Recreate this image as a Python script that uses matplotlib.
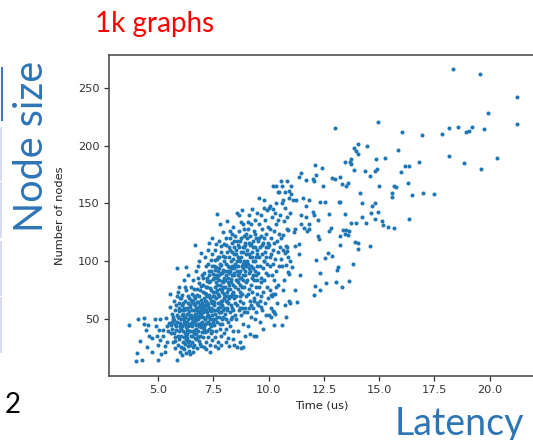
import numpy as np
import matplotlib.pyplot as plt
from matplotlib.lines import Line2D

# points: (time in us, number of nodes)
low_left = [(3.68, 45), (4.07, 50), (4.37, 51), (3.98, 14), (4.25, 15), (4.02, 21), (4.17, 31),
            (4.47, 41), (4.55, 45), (4.85, 50), (4.97, 15), (4.7, 22), (4.48, 26), (4.73, 34),
            (5.03, 41), (4.93, 36), (5.08, 32), (5.37, 51), (5.23, 41), (5.1, 50), (5.41, 30),
            (5.33, 27), (5.15, 20), (5.45, 40), (5.0, 28), (4.6, 36), (5.3, 22), (4.9, 44),
            (5.47, 47), (4.37, 46), (5.38, 44), (5.2, 36)]

band_55 = [(5.52, 72), (5.55, 61), (5.58, 38), (5.6, 45), (5.62, 55), (5.64, 42), (5.66, 30),
           (5.68, 50), (5.7, 66), (5.72, 49), (5.74, 25), (5.76, 58), (5.78, 35), (5.8, 62),
           (5.82, 44), (5.84, 70), (5.86, 94), (5.87, 15), (5.88, 28), (5.9, 52), (5.92, 40),
           (5.93, 78), (5.95, 33), (5.96, 57), (5.97, 47), (5.98, 22), (5.99, 68), (5.7, 38),
           (5.75, 46), (5.85, 54), (5.9, 36), (5.65, 52), (5.8, 41), (5.95, 64), (5.83, 48),
           (5.77, 31), (5.62, 48), (5.92, 60), (5.88, 74), (5.98, 43)]

band_60 = [(6.02, 26), (6.03, 50), (6.05, 36), (6.06, 62), (6.08, 19), (6.09, 44), (6.1, 71),
           (6.12, 55), (6.13, 30), (6.15, 47), (6.16, 84), (6.18, 24), (6.19, 58), (6.2, 38),
           (6.22, 66), (6.23, 52), (6.25, 21), (6.26, 43), (6.28, 75), (6.29, 34), (6.3, 60),
           (6.32, 48), (6.33, 27), (6.35, 55), (6.36, 88), (6.38, 40), (6.39, 68), (6.4, 31),
           (6.42, 52), (6.43, 20), (6.45, 62), (6.46, 45), (6.48, 78), (6.49, 36), (6.04, 42),
           (6.11, 64), (6.14, 40), (6.21, 46), (6.24, 59), (6.27, 32), (6.31, 41), (6.34, 70),
           (6.37, 50), (6.41, 57), (6.44, 28), (6.47, 54), (6.07, 54), (6.17, 35), (6.33, 64),
           (6.45, 40), (6.2, 78), (6.38, 23), (6.12, 25), (6.27, 95), (6.4, 46), (6.05, 68),
           (6.3, 37), (6.22, 29), (6.47, 67), (6.15, 51)]

band_65 = [(6.51, 30), (6.52, 58), (6.53, 44), (6.55, 72), (6.56, 22), (6.57, 50), (6.58, 84),
           (6.6, 38), (6.61, 63), (6.62, 47), (6.64, 28), (6.65, 55), (6.66, 114), (6.67, 68),
           (6.68, 41), (6.7, 92), (6.71, 33), (6.72, 60), (6.73, 49), (6.75, 76), (6.76, 25),
           (6.77, 53), (6.78, 65), (6.8, 40), (6.81, 86), (6.82, 57), (6.83, 31), (6.85, 70),
           (6.86, 46), (6.87, 100), (6.88, 62), (6.9, 36), (6.91, 54), (6.92, 79), (6.93, 43),
           (6.95, 67), (6.96, 27), (6.97, 58), (6.98, 48), (6.99, 88), (6.54, 36), (6.59, 66),
           (6.63, 52), (6.69, 45), (6.74, 58), (6.79, 50), (6.84, 61), (6.89, 52), (6.94, 55),
           (6.97, 39), (6.55, 48), (6.62, 76), (6.7, 55), (6.78, 35), (6.85, 56), (6.92, 62),
           (6.6, 58), (6.68, 62), (6.76, 71), (6.84, 44), (6.9, 75), (6.58, 26), (6.73, 37),
           (6.88, 29), (6.95, 107), (6.52, 65), (6.66, 34), (6.8, 96), (6.94, 47), (6.72, 42)]

band_70 = [(7.01, 52), (7.02, 35), (7.03, 74), (7.05, 60), (7.06, 44), (7.07, 90), (7.08, 26),
           (7.1, 66), (7.11, 50), (7.12, 104), (7.14, 39), (7.15, 78), (7.16, 58), (7.18, 30),
           (7.19, 86), (7.2, 47), (7.22, 70), (7.23, 56), (7.24, 98), (7.25, 35), (7.27, 63),
           (7.28, 42), (7.29, 82), (7.3, 52), (7.32, 116), (7.33, 28), (7.34, 68), (7.35, 46),
           (7.37, 92), (7.38, 60), (7.39, 38), (7.4, 75), (7.42, 54), (7.43, 106), (7.44, 32),
           (7.45, 64), (7.47, 48), (7.48, 85), (7.49, 58), (7.04, 56), (7.09, 42), (7.13, 62),
           (7.17, 72), (7.21, 40), (7.26, 54), (7.31, 60), (7.36, 77), (7.41, 44), (7.46, 70),
           (7.02, 80), (7.08, 61), (7.14, 50), (7.2, 64), (7.27, 48), (7.33, 58), (7.39, 66),
           (7.45, 40), (7.06, 68), (7.12, 46), (7.18, 96), (7.24, 61), (7.3, 88), (7.36, 50),
           (7.42, 96), (7.48, 66), (7.15, 24), (7.35, 22), (7.25, 110), (7.45, 120), (7.1, 57),
           (7.22, 83), (7.28, 71), (7.4, 57), (7.05, 45), (7.47, 74)]

band_75 = [(7.51, 62), (7.52, 45), (7.53, 96), (7.55, 78), (7.56, 35), (7.57, 110), (7.58, 55),
           (7.6, 88), (7.61, 68), (7.62, 40), (7.64, 102), (7.65, 58), (7.66, 141), (7.67, 75),
           (7.68, 48), (7.7, 92), (7.71, 64), (7.72, 30), (7.73, 84), (7.75, 52), (7.76, 118),
           (7.77, 70), (7.78, 42), (7.8, 98), (7.81, 61), (7.82, 80), (7.83, 36), (7.85, 108),
           (7.86, 56), (7.87, 74), (7.88, 90), (7.9, 46), (7.91, 66), (7.92, 125), (7.93, 82),
           (7.95, 52), (7.96, 100), (7.97, 72), (7.98, 38), (7.99, 86), (7.54, 70), (7.59, 50),
           (7.63, 82), (7.69, 60), (7.74, 94), (7.79, 56), (7.84, 66), (7.89, 62), (7.94, 78),
           (7.54, 86), (7.6, 74), (7.66, 86), (7.72, 72), (7.78, 64), (7.84, 90), (7.9, 76),
           (7.96, 60), (7.57, 27), (7.7, 25), (7.85, 28), (7.63, 115), (7.82, 132), (7.97, 115),
           (7.52, 58), (7.62, 95), (7.74, 56), (7.88, 50), (7.95, 93), (7.67, 52), (7.8, 76),
           (7.93, 58), (7.58, 101), (7.76, 104), (7.86, 97), (7.99, 68)]

band_80 = [(8.01, 78), (8.02, 55), (8.03, 104), (8.05, 66), (8.06, 42), (8.07, 120), (8.08, 88),
           (8.1, 60), (8.11, 135), (8.12, 74), (8.14, 48), (8.15, 96), (8.16, 82), (8.18, 34),
           (8.19, 112), (8.2, 68), (8.22, 90), (8.23, 56), (8.24, 126), (8.25, 76), (8.27, 44),
           (8.28, 100), (8.29, 62), (8.3, 85), (8.32, 116), (8.33, 52), (8.34, 72), (8.35, 94),
           (8.37, 40), (8.38, 130), (8.39, 80), (8.4, 58), (8.42, 106), (8.43, 68), (8.44, 88),
           (8.45, 28), (8.47, 122), (8.48, 64), (8.49, 98), (8.04, 92), (8.09, 50), (8.13, 108),
           (8.17, 64), (8.21, 80), (8.26, 110), (8.31, 70), (8.36, 60), (8.41, 118), (8.46, 78),
           (8.02, 70), (8.08, 98), (8.14, 86), (8.2, 104), (8.26, 92), (8.32, 96), (8.38, 74),
           (8.44, 112), (8.5, 84), (8.06, 30), (8.22, 27), (8.4, 33), (8.12, 58), (8.3, 50),
           (8.46, 54), (8.16, 70), (8.34, 108), (8.18, 92), (8.28, 82), (8.42, 90), (8.36, 124)]

band_85 = [(8.51, 70), (8.52, 96), (8.53, 50), (8.55, 118), (8.56, 84), (8.57, 62), (8.58, 142),
           (8.6, 104), (8.61, 76), (8.62, 40), (8.64, 126), (8.65, 90), (8.66, 58), (8.67, 112),
           (8.68, 80), (8.7, 100), (8.71, 30), (8.72, 66), (8.73, 134), (8.75, 86), (8.76, 54),
           (8.77, 120), (8.78, 96), (8.8, 72), (8.81, 144), (8.82, 108), (8.83, 46), (8.85, 88),
           (8.86, 64), (8.87, 128), (8.88, 100), (8.9, 78), (8.91, 36), (8.92, 116), (8.93, 92),
           (8.95, 60), (8.96, 106), (8.97, 82), (8.98, 124), (8.99, 70), (8.54, 106), (8.59, 88),
           (8.63, 96), (8.69, 74), (8.74, 104), (8.79, 60), (8.84, 112), (8.89, 56), (8.94, 98),
           (8.57, 26), (8.75, 25), (8.62, 82), (8.7, 118), (8.78, 78), (8.86, 94), (8.94, 114),
           (8.66, 140), (8.84, 132), (8.56, 100), (8.72, 92), (8.9, 122), (8.68, 70), (8.82, 84),
           (8.98, 96), (8.6, 114)]

band_90 = [(9.01, 110), (9.02, 84), (9.03, 56), (9.05, 128), (9.06, 98), (9.07, 72), (9.08, 44),
           (9.1, 116), (9.11, 90), (9.12, 140), (9.14, 66), (9.15, 104), (9.16, 122), (9.18, 80),
           (9.19, 52), (9.2, 132), (9.22, 96), (9.23, 108), (9.24, 74), (9.25, 145), (9.27, 88),
           (9.28, 60), (9.29, 118), (9.3, 100), (9.32, 36), (9.33, 84), (9.34, 126), (9.35, 68),
           (9.37, 112), (9.38, 92), (9.39, 50), (9.4, 136), (9.42, 78), (9.43, 104), (9.44, 120),
           (9.45, 64), (9.47, 96), (9.48, 84), (9.49, 142), (9.04, 100), (9.13, 94), (9.21, 62),
           (9.31, 112), (9.41, 88), (9.46, 72), (9.09, 60), (9.26, 104), (9.36, 100), (9.17, 114),
           (9.44, 56), (9.06, 134), (9.23, 86), (9.33, 66), (9.12, 76), (9.48, 106)]

band_95 = [(9.51, 118), (9.52, 90), (9.53, 62), (9.55, 132), (9.56, 104), (9.57, 78), (9.58, 155),
           (9.6, 112), (9.61, 48), (9.62, 96), (9.64, 140), (9.65, 70), (9.66, 122), (9.67, 86),
           (9.69, 106), (9.7, 58), (9.72, 128), (9.73, 94), (9.74, 116), (9.75, 74), (9.77, 146),
           (9.78, 100), (9.79, 84), (9.8, 120), (9.82, 64), (9.83, 136), (9.84, 108), (9.86, 90),
           (9.87, 124), (9.88, 54), (9.9, 112), (9.91, 78), (9.92, 144), (9.94, 98), (9.95, 116),
           (9.96, 68), (9.98, 130), (9.99, 88), (9.54, 120), (9.63, 82), (9.71, 114), (9.81, 100),
           (9.89, 104), (9.97, 112), (9.59, 66), (9.79, 153)]

band_100 = [(10.01, 146), (10.02, 114), (10.04, 96), (10.05, 75), (10.06, 128), (10.08, 148),
            (10.09, 106), (10.1, 60), (10.12, 120), (10.13, 88), (10.15, 138), (10.16, 70),
            (10.18, 110), (10.19, 98), (10.2, 145), (10.22, 126), (10.23, 56), (10.24, 84),
            (10.26, 116), (10.27, 142), (10.29, 102), (10.3, 72), (10.32, 132), (10.33, 92),
            (10.35, 150), (10.36, 118), (10.38, 64), (10.4, 108), (10.42, 136), (10.43, 80),
            (10.45, 124), (10.47, 96), (10.48, 160), (10.49, 112), (10.1, 52), (10.25, 45),
            (10.4, 160), (10.2, 165), (10.35, 78), (10.05, 104), (10.35, 165)]

band_105 = [(10.52, 140), (10.55, 120), (10.58, 150), (10.6, 96), (10.62, 165), (10.64, 110),
            (10.66, 123), (10.68, 84), (10.7, 135), (10.72, 160), (10.74, 107), (10.76, 146),
            (10.78, 52), (10.8, 97), (10.81, 112), (10.82, 138), (10.84, 169), (10.85, 128),
            (10.87, 91), (10.89, 127), (10.9, 155), (10.92, 66), (10.94, 89), (10.96, 100),
            (10.98, 142), (10.59, 45), (10.65, 75), (10.75, 62), (10.88, 104), (10.55, 102),
            (10.57, 169), (11.0, 165), (10.93, 161), (11.03, 158), (10.67, 153), (10.8, 113),
            (10.85, 109)]

# extra points in the densest part of the cloud
core_dense = [(5.95, 51), (6.01, 45), (6.08, 58), (6.18, 49), (6.24, 36), (6.29, 55),
              (6.36, 44), (6.42, 61), (6.5, 51), (6.57, 40), (6.63, 70), (6.69, 51),
              (6.74, 65), (6.81, 46), (6.87, 81), (6.93, 59), (6.99, 64), (7.04, 86),
              (7.11, 73), (7.16, 66), (7.23, 78), (7.29, 92), (7.35, 83), (7.41, 101),
              (7.46, 89), (7.53, 65), (7.59, 93), (7.65, 80), (7.71, 104), (7.77, 88),
              (7.83, 113), (7.89, 83), (7.94, 105), (8.03, 84), (8.09, 114), (8.15, 76),
              (8.21, 95), (8.27, 120), (8.33, 88), (8.39, 102), (8.45, 94), (8.51, 110),
              (8.58, 92), (8.64, 102), (8.7, 86), (8.77, 108), (8.83, 98), (8.89, 112),
              (8.95, 88), (9.02, 120), (9.09, 106), (9.16, 92), (9.22, 115), (9.3, 94),
              (9.37, 124), (9.45, 110), (6.15, 60), (6.34, 30), (6.6, 48), (6.9, 44),
              (7.2, 53), (7.5, 50), (7.8, 46), (8.1, 66), (8.4, 72), (8.7, 60)]

core_low_edge = [(9.74, 42), (10.19, 57), (10.27, 55), (10.01, 54), (9.41, 36), (9.14, 37),
                 (8.84, 26), (10.12, 71), (10.19, 72), (9.67, 61)]

tail_mid = [(14.02, 201), (14.47, 200), (13.86, 198), (13.94, 195), (14.02, 193), (15.86, 196),
            (15.28, 189), (14.85, 188), (13.74, 188), (13.67, 186), (13.47, 186), (13.73, 184),
            (14.35, 178), (14.88, 180), (14.81, 178), (14.58, 174), (13.85, 179), (12.11, 183),
            (12.4, 181), (11.46, 176), (11.38, 173), (12.15, 175), (11.99, 171), (12.07, 169),
            (12.88, 172), (13.01, 171), (13.21, 173), (13.59, 168), (13.33, 167), (13.48, 165),
            (11.69, 170), (12.45, 165), (14.12, 159), (14.99, 165), (11.53, 155), (11.81, 153),
            (11.69, 148), (11.08, 153), (11.23, 153), (12.34, 151), (12.56, 151), (13.16, 151),
            (13.23, 151), (14.24, 150), (14.81, 150), (14.68, 148), (14.62, 142), (14.96, 143),
            (14.81, 137), (15.14, 135), (15.16, 131), (15.42, 130), (15.65, 129), (14.24, 138),
            (14.39, 133), (11.99, 143), (12.07, 140), (12.22, 136), (12.75, 141), (13.44, 141),
            (13.74, 133), (13.97, 133), (13.51, 127), (13.63, 126), (13.59, 123), (13.44, 124),
            (13.37, 127), (13.21, 122), (12.83, 129), (12.75, 126), (13.89, 117), (14.05, 116),
            (14.02, 111), (14.58, 113), (13.21, 114), (12.68, 107), (12.22, 122), (12.27, 119),
            (11.81, 128), (11.73, 126), (11.61, 129), (11.46, 132), (11.2, 128), (11.13, 125),
            (11.35, 115), (11.2, 113), (11.69, 138), (11.46, 140), (11.81, 132)]

tail_top = [(18.32, 266), (19.57, 262), (21.23, 242), (19.9, 228), (21.23, 219), (13.02, 215),
            (14.93, 220), (16.03, 212), (16.92, 209), (17.82, 210), (18.14, 215), (18.58, 216),
            (18.92, 212), (19.07, 213), (19.22, 216), (19.75, 214), (18.14, 191), (18.85, 185),
            (19.6, 180), (20.32, 189), (16.17, 182), (16.36, 182), (16.78, 186), (15.99, 177),
            (16.3, 168), (16.48, 157), (16.96, 159), (17.46, 158), (16.35, 137), (15.69, 165),
            (15.76, 164), (15.58, 159), (15.58, 156)]

tail_low = [(12.11, 79), (12.33, 75), (12.07, 71), (12.6, 81), (11.17, 75), (11.28, 65),
            (10.95, 64), (13.05, 82), (13.32, 78), (13.62, 83), (13.08, 93), (13.14, 95),
            (12.3, 90), (12.15, 101), (12.57, 103), (12.87, 105), (13.8, 98), (11.35, 106),
            (11.05, 95), (11.4, 88)]

x_ticks = [5.0, 7.5, 10.0, 12.5, 15.0, 17.5, 20.0]
y_ticks = [50, 100, 150, 200, 250]

groups = [low_left, band_55, band_60, band_65, band_70, band_75, band_80, band_85,
          band_90, band_95, band_100, band_105, core_dense, core_low_edge,
          tail_mid, tail_top, tail_low]
pts = np.array([p for g in groups for p in g])
time_us = pts[:, 0]
nodes = pts[:, 1]

fig = plt.figure(figsize=(5.33, 4.40), dpi=100)
ax = fig.add_axes([0.2051, 0.1461, 0.7987, 0.7289])
ax.scatter(time_us, nodes, s=8.5, color='#1f77b4', linewidths=0)
ax.set_xlim(2.79, 22.05)
ax.set_ylim(1.3, 278.2)
ax.set_xticks(x_ticks)
ax.set_xticklabels([f'{t:.1f}' for t in x_ticks])
ax.set_yticks(y_ticks)
ax.tick_params(labelsize=8.2, colors='#333333', length=3.5, width=0.9)
for sp in ax.spines.values():
    sp.set_color('#505050')
    sp.set_linewidth(1.2)
ax.set_xlabel('Time (us)', fontsize=8.2, color='#222222')
ax.set_ylabel('Number of nodes', fontsize=8.2, color='#222222', labelpad=9.5)

# slide text around the chart
fig.text(95 / 533, 1 - 32 / 440, '1k graphs', color='red', fontsize=20,
         family='Lato', va='baseline', ha='left')
fig.text(43 / 533, 1 - 146.5 / 440, 'Node size', color='#2E75B6', fontsize=28.5,
         family='Lato', rotation=90, rotation_mode='anchor', ha='center', va='baseline')
fig.text(395 / 533, 1 - 435 / 440, 'Latency', color='#2E75B6', fontsize=27,
         family='Lato', va='baseline', ha='left')
fig.text(5 / 533, 1 - 413 / 440, '2', color='black', fontsize=20,
         family='Lato', va='baseline', ha='left')

# cropped table border on the far left
fig.add_artist(Line2D([1.5 / 533] * 2, [1 - 68 / 440, 1 - 120 / 440],
                      color='#4472C4', linewidth=1.5))
for top, bot in [(128, 180), (183, 237), (242, 295), (298, 352)]:
    fig.add_artist(Line2D([1.0 / 533] * 2, [1 - top / 440, 1 - bot / 440],
                          color='#cdd3ee', linewidth=1.2))

fig.savefig('out.png', dpi=100)
